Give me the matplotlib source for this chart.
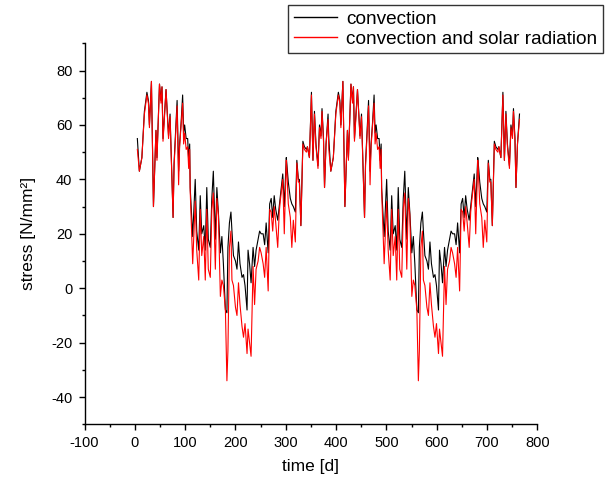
import numpy as np
import matplotlib
matplotlib.use("Agg")
from matplotlib import pyplot as plt
from matplotlib.ticker import MultipleLocator

# one year of daily stress readings, the second year repeats the first
period = 380.5
days = [5, 9, 14, 19, 24, 27, 29, 33, 37, 42, 44, 49, 52, 54, 56, 58, 62, 67, 70, 76,
        78, 84, 87, 89, 92, 95, 97, 99, 102, 105, 107, 109, 110, 115, 120, 123, 127, 130,
        133, 137, 140, 143, 146, 150, 153, 156, 160, 163, 166, 170, 173, 176, 180, 183,
        185, 188, 191, 193, 196, 200, 203, 206, 209, 213, 216, 219, 223, 225, 228, 231,
        235, 238, 241, 245, 248, 251, 255, 258, 261, 265, 268, 271, 274, 277, 280, 284,
        287, 289, 294, 297, 301, 302, 305, 309, 312, 315, 319, 322, 325, 327, 330, 334,
        337, 341, 343, 347, 351, 354, 357, 360, 364, 367, 370, 372, 375, 377, 380, 384]
convection = [55, 43, 48, 65, 72, 69, 60, 76, 30, 58, 48, 75, 69, 74, 55, 61, 73, 56, 64, 26,
              46, 69, 43, 53, 61, 71, 57, 60, 55, 55, 47, 53, 37, 19, 40, 21, 14, 34,
              20, 23, 14, 37, 18, 15, 33, 43, 18, 37, 28, 13, 19, 9, -8, -9,
              15, 24, 28, 21, 12, 10, 7, 17, 9, 4, 5, 1, -8, 14, 9, 2,
              15, 8, 14, 18, 21, 20, 20, 16, 24, 13, 31, 33, 26, 34, 29, 25,
              30, 33, 42, 30, 48, 46, 39, 33, 31, 30, 28, 47, 40, 40, 23, 54,
              52, 51, 52, 48, 72, 47, 65, 53, 45, 60, 56, 66, 55, 37, 53, 64]
convection_solar = [51, 43, 48, 64, 71, 68, 59, 76, 30, 58, 47, 75, 68, 74, 54, 60, 73, 55, 63, 26,
                    45, 67, 38, 52, 60, 68, 53, 57, 51, 52, 44, 51, 36, 9, 32, 14, 3, 29,
                    12, 19, 3, 29, 7, 4, 29, 35, 7, 33, 27, -3, 3, 1, -8, -34,
                    -23, 15, 21, 3, 1, -7, -10, 2, -6, -14, -18, -13, -24, -15, -20, -25,
                    8, -6, 7, 10, 15, 13, 9, 4, 15, -1, 29, 28, 21, 30, 24, 15,
                    28, 32, 40, 20, 47, 44, 31, 26, 15, 25, 17, 46, 39, 39, 23, 53,
                    51, 50, 52, 48, 71, 47, 64, 52, 44, 59, 55, 65, 54, 37, 53, 62]

t = np.concatenate([days, np.array(days) + period])
conv = np.concatenate([convection, convection])
conv_solar = np.concatenate([convection_solar, convection_solar])

plt.rcParams['font.family'] = ['Liberation Sans', 'DejaVu Sans']
plt.rcParams['axes.unicode_minus'] = False

fig = plt.figure(figsize=(6.05, 4.88), dpi=100)
ax = fig.add_axes([0.1397, 0.1305, 0.7485, 0.7808])

ax.plot(t, conv, color='black', lw=0.8, label="convection")
ax.plot(t, conv_solar, color='#ff0000', lw=0.8, label="convection and solar radiation")

ax.set_xlim(-100, 800)
ax.set_ylim(-50, 90)
ax.xaxis.set_major_locator(MultipleLocator(100))
ax.xaxis.set_minor_locator(MultipleLocator(50))
ax.yaxis.set_major_locator(MultipleLocator(20))
ax.yaxis.set_minor_locator(MultipleLocator(10))
ax.spines['top'].set_visible(False)
ax.spines['right'].set_visible(False)
for side in ('left', 'bottom'):
    ax.spines[side].set_linewidth(1.0)
ax.tick_params(which='major', direction='out', length=4.2, width=1.0, labelsize=10.5, pad=4.5)
ax.tick_params(which='minor', direction='out', length=2.5, width=1.0)

ax.set_xlabel("time [d]", fontsize=12.5, labelpad=6)
ax.set_ylabel("stress [N/mm²]", fontsize=12.5, labelpad=11)

leg = ax.legend(loc='upper left', bbox_to_anchor=(288 / 605, 1 - 5 / 488),
                bbox_transform=fig.transFigure, fontsize=13.7, frameon=True,
                fancybox=False, borderpad=0.3, labelspacing=0.12, handlelength=2.3,
                handletextpad=0.45, borderaxespad=0)
leg.get_frame().set_edgecolor('black')
leg.get_frame().set_linewidth(1.0)
for line in leg.get_lines():
    line.set_linewidth(1.0)

fig.savefig("out.png", dpi=100)
